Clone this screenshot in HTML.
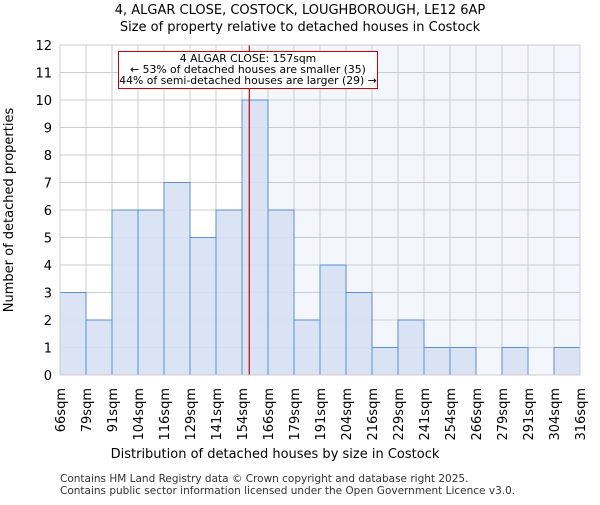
<!DOCTYPE html>
<html><head><meta charset="utf-8"><style>body{margin:0;background:#fff}svg{font-family:"DejaVu Sans","Liberation Sans",sans-serif}</style></head>
<body>
<svg id="c" width="600" height="500">
<text x="300" y="14" text-anchor="middle" font-size="13">4, ALGAR CLOSE, COSTOCK, LOUGHBOROUGH, LE12 6AP</text>
<text x="300" y="31" text-anchor="middle" font-size="13">Size of property relative to detached houses in Costock</text>
<g id="plot"></g>
<text x="275" y="458" text-anchor="middle" font-size="13">Distribution of detached houses by size in Costock</text>
<text transform="translate(13,210) rotate(-90)" text-anchor="middle" font-size="13">Number of detached properties</text>
<text x="60" y="482" font-size="10.5" fill="#333">Contains HM Land Registry data © Crown copyright and database right 2025.</text>
<text x="60" y="494" font-size="10.5" fill="#333">Contains public sector information licensed under the Open Government Licence v3.0.</text>
</svg>
<script>
const categories=["66sqm","79sqm","91sqm","104sqm","116sqm","129sqm","141sqm","154sqm","166sqm","179sqm","191sqm","204sqm","216sqm","229sqm","241sqm","254sqm","266sqm","279sqm","291sqm","304sqm","316sqm"];
const counts=[3,2,6,6,7,5,6,10,6,2,4,3,1,2,1,1,0,1,0,1];
const yTicks=[0,1,2,3,4,5,6,7,8,9,10,11,12];
const binStart=66,binSize=12.5,markerValue=157;
const L=60,R=580,T=45,B=375,yMax=12;
const bw=(R-L)/counts.length;
const xv=v=>L+(v-binStart)/binSize*bw;
const y=v=>B-(B-T)*v/yMax;
const ns="http://www.w3.org/2000/svg",g=document.getElementById('plot');
function mk(t,a,txt){const e=document.createElementNS(ns,t);for(const k in a)e.setAttribute(k,a[k]);if(txt!=null)e.textContent=txt;g.appendChild(e);return e;}
const mx=xv(markerValue);
let e=mk('rect',{x:mx,y:T,width:R-mx,height:B-T,fill:'#f3f6fc'});


yTicks.forEach(t=>{let l=mk('line',{x1:L,x2:R,y1:y(t),y2:y(t),stroke:'#ccc'});


let tx=mk('text',{x:L-8,y:y(t)+5,'text-anchor':'end','font-size':13},t);

});
categories.forEach((c,i)=>{const x=L+i*bw;let l=mk('line',{x1:x,x2:x,y1:T,y2:B,stroke:'#ccc'});


let tx=mk('text',{transform:`translate(${x+5},388) rotate(-90)`,'text-anchor':'end','font-size':13},c);

});
counts.forEach((v,i)=>{if(!v)return;let r=mk('rect',{x:L+i*bw,y:y(v),width:bw,height:B-y(v),fill:'#d6e1f3',stroke:'#5b8fd6','stroke-width':1,'fill-opacity':0.9});

});
e=mk('line',{x1:mx,x2:mx,y1:T,y2:B,stroke:'#c00','stroke-width':1.2});


e=mk('rect',{x:118.5,y:51.5,width:259,height:37,fill:'#fff',stroke:'#c00'});


["4 ALGAR CLOSE: 157sqm","← 53% of detached houses are smaller (35)","44% of semi-detached houses are larger (29) →"].forEach((s,i)=>{let t=mk('text',{x:248,y:62+i*11,'text-anchor':'middle','font-size':10.8},s);

});
e=mk('rect',{x:L,y:T,width:R-L,height:B-T,fill:'none',stroke:'#ccc'});


</script>
</body></html>
